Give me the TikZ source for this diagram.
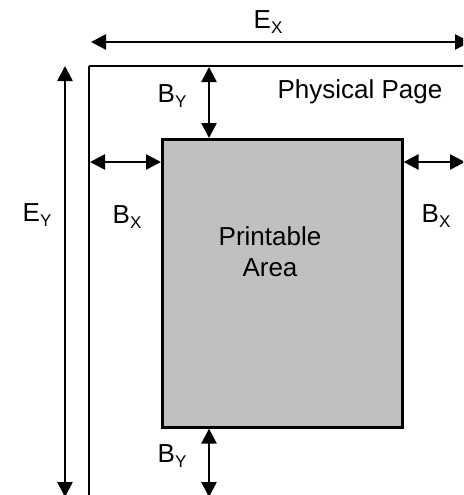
\documentclass[tikz,border=0pt]{standalone}
\usepackage{fontspec}
\setmainfont{Liberation Sans}
\usetikzlibrary{arrows.meta}
\newcommand{\lbl}[2]{#1\raisebox{-0.18em}{\fontsize{17}{17}\selectfont #2}}
\begin{document}
\begin{tikzpicture}[x=1pt,y=-1pt,
  txt/.style={font=\fontsize{26}{31}\selectfont, inner sep=0pt, align=center},
  dim/.style={line width=2.6pt, {Triangle[length=15pt,width=15pt]}-{Triangle[length=15pt,width=15pt]}},
  edge/.style={line width=2.6pt}]
\useasboundingbox (0,0) rectangle (463,495);
\clip (0,0) rectangle (463,495);
% physical page
\coordinate (pg) at (89,66);
\draw[edge] (pg) -- (520,66) (pg) -- (89,560);
% printable area
\node[draw, line width=2.6pt, fill={rgb,255:red,192;green,192;blue,192}, minimum width=240pt, minimum height=288pt, inner sep=0pt, anchor=north west] (pa) at (161,138) {};
\node[txt] (patxt) at (270,252) {Printable\\Area};
\node[txt] (pp) at (360,92) {Physical Page};
% E_X
\coordinate (ex1) at (91,42);
\coordinate (ex2) at (470,42);
\draw[dim] (ex1) -- (ex2);
\node[txt] (exl) at (268,22) {\lbl{E}{X}};
% E_Y
\coordinate (ey1) at (65,66);
\coordinate (ey2) at (65,497);
\draw[dim] (ey1) -- (ey2);
\node[txt] (eyl) at (37,215) {\lbl{E}{Y}};
% B_Y top
\coordinate (byt1) at (209,67);
\draw[dim] (byt1) -- (pa.north west -| byt1);
\node[txt] (bytl) at (172,96) {\lbl{B}{Y}};
% B_X left
\coordinate (bxl1) at (90,162);
\draw[dim] (bxl1) -- (pa.west |- bxl1);
\node[txt] (bxll) at (127,217) {\lbl{B}{X}};
% B_X right
\coordinate (bxr2) at (465,162);
\draw[dim] (pa.east |- bxr2) -- (bxr2);
\node[txt] (bxrl) at (436,216) {\lbl{B}{X}};
% B_Y bottom
\coordinate (byb2) at (209,497);
\draw[dim] (pa.south west -| byb2) -- (byb2);
\node[txt] (bybl) at (172,456) {\lbl{B}{Y}};
\end{tikzpicture}
\end{document}
